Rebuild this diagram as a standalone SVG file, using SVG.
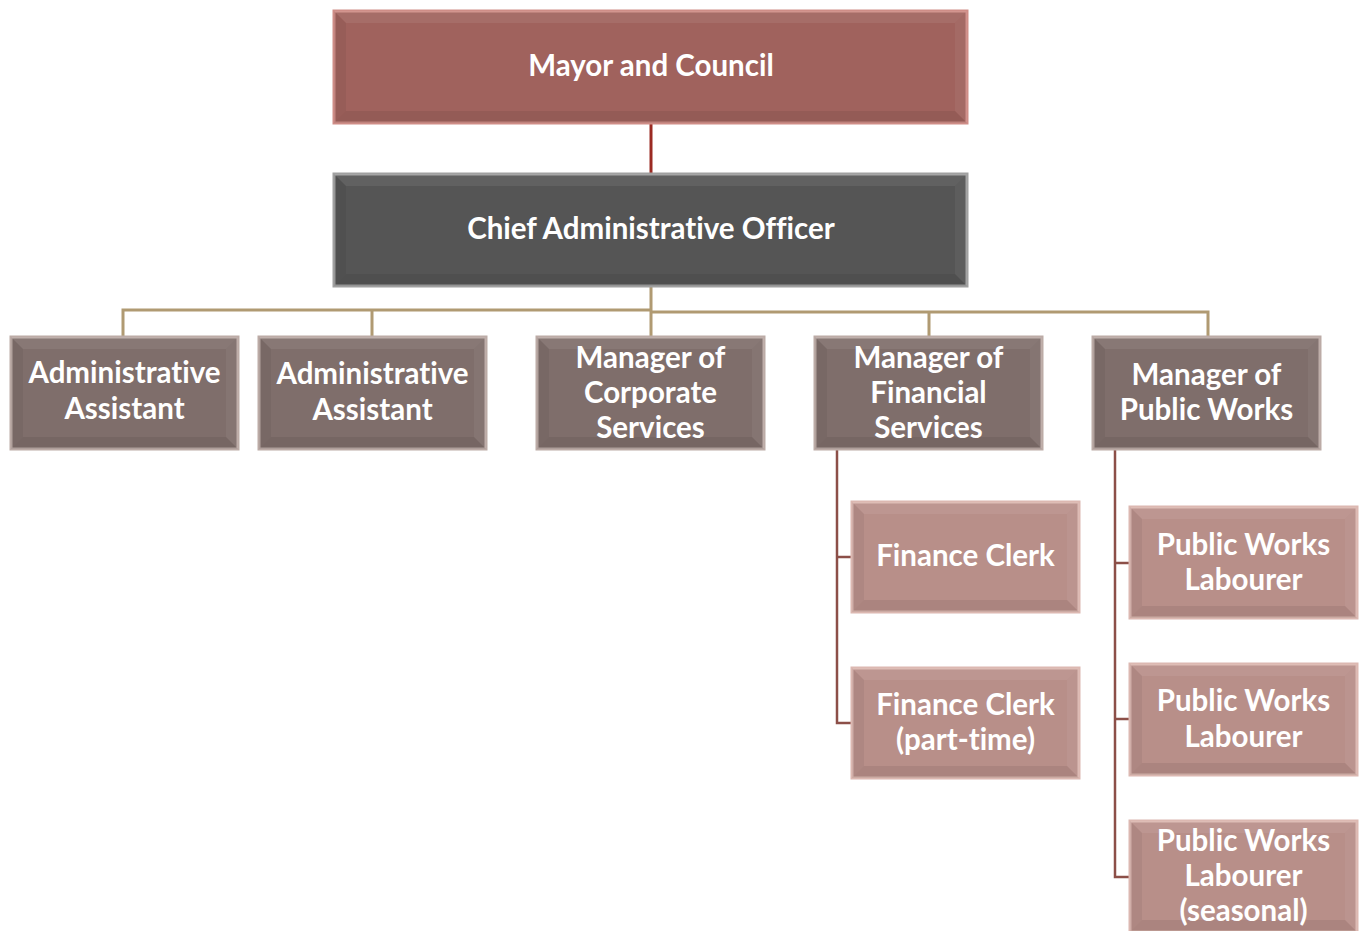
<svg xmlns="http://www.w3.org/2000/svg" width="1365" height="931" viewBox="0 0 1365 931">
<style>
.t{font-family:Lato,"Open Sans","Liberation Sans",sans-serif;font-weight:bold;font-size:29.5px;fill:#ffffff;text-anchor:middle;font-variant-ligatures:none;font-feature-settings:"liga" 0}
.mayor{fill:#a0625d;stroke:#cf8d87;stroke-width:3}
.cao{fill:#555555;stroke:#a0a0a0;stroke-width:3}
.mid{fill:#7f6e6b;stroke:#bcaba6;stroke-width:3}
.leaf{fill:#b88f89;stroke:#dcb8b1;stroke-width:3}
.bt{fill:#ffffff;fill-opacity:0.07}
.bl{fill:#000000;fill-opacity:0.05}
.bb{fill:#000000;fill-opacity:0.07}
.br{fill:#ffffff;fill-opacity:0.05}
.c1{stroke:#9b2a22;stroke-width:3;fill:none}
.c2{stroke:#b09a72;stroke-width:3;fill:none}
.c3{stroke:#8c4f48;stroke-width:2.5;fill:none}
</style>
<rect width="1365" height="931" fill="#ffffff"/>
<g id="connectors">
<line class="c1" x1="651" y1="123" x2="651" y2="174"/>
<path class="c2" d="M651,286 V337 M123,337 V310 H651 M651,312 H1208 V337 M372,310 V337 M929,312 V337"/>
<path class="c3" d="M837,449 V723 H852 M837,557 H852"/>
<path class="c3" d="M1115,449 V877 H1130 M1115,563 H1130 M1115,719 H1130"/>
</g>
<g id="mayor">
<rect class="mayor" x="334" y="11" width="633" height="112"/>
<polygon class="bt" points="334,11 967,11 955,23 346,23"/>
<polygon class="bl" points="334,11 346,23 346,111 334,123"/>
<polygon class="bb" points="334,123 346,111 955,111 967,123"/>
<polygon class="br" points="967,11 967,123 955,111 955,23"/>
<text class="t" x="651" y="76">Mayor and Council</text>
</g>
<g id="cao">
<rect class="cao" x="334" y="174" width="633" height="112"/>
<polygon class="bt" points="334,174 967,174 955,186 346,186"/>
<polygon class="bl" points="334,174 346,186 346,274 334,286"/>
<polygon class="bb" points="334,286 346,274 955,274 967,286"/>
<polygon class="br" points="967,174 967,286 955,274 955,186"/>
<text class="t" x="651" y="239">Chief Administrative Officer</text>
</g>
<g id="admin1">
<rect class="mid" x="11" y="337" width="227" height="112"/>
<polygon class="bt" points="11,337 238,337 226,349 23,349"/>
<polygon class="bl" points="11,337 23,349 23,437 11,449"/>
<polygon class="bb" points="11,449 23,437 226,437 238,449"/>
<polygon class="br" points="238,337 238,449 226,437 226,349"/>
<text class="t" x="124.5" y="383">Administrative</text>
<text class="t" x="124.5" y="419">Assistant</text>
</g>
<g id="admin2">
<rect class="mid" x="259" y="337" width="227" height="112"/>
<polygon class="bt" points="259,337 486,337 474,349 271,349"/>
<polygon class="bl" points="259,337 271,349 271,437 259,449"/>
<polygon class="bb" points="259,449 271,437 474,437 486,449"/>
<polygon class="br" points="486,337 486,449 474,437 474,349"/>
<text class="t" x="372.5" y="384">Administrative</text>
<text class="t" x="372.5" y="420">Assistant</text>
</g>
<g id="corporate">
<rect class="mid" x="537" y="337" width="227" height="112"/>
<polygon class="bt" points="537,337 764,337 752,349 549,349"/>
<polygon class="bl" points="537,337 549,349 549,437 537,449"/>
<polygon class="bb" points="537,449 549,437 752,437 764,449"/>
<polygon class="br" points="764,337 764,449 752,437 752,349"/>
<text class="t" x="650.5" y="368">Manager of</text>
<text class="t" x="650.5" y="403">Corporate</text>
<text class="t" x="650.5" y="438">Services</text>
</g>
<g id="financial">
<rect class="mid" x="815" y="337" width="227" height="112"/>
<polygon class="bt" points="815,337 1042,337 1030,349 827,349"/>
<polygon class="bl" points="815,337 827,349 827,437 815,449"/>
<polygon class="bb" points="815,449 827,437 1030,437 1042,449"/>
<polygon class="br" points="1042,337 1042,449 1030,437 1030,349"/>
<text class="t" x="928.5" y="368">Manager of</text>
<text class="t" x="928.5" y="403">Financial</text>
<text class="t" x="928.5" y="438">Services</text>
</g>
<g id="publicworks">
<rect class="mid" x="1093" y="337" width="227" height="112"/>
<polygon class="bt" points="1093,337 1320,337 1308,349 1105,349"/>
<polygon class="bl" points="1093,337 1105,349 1105,437 1093,449"/>
<polygon class="bb" points="1093,449 1105,437 1308,437 1320,449"/>
<polygon class="br" points="1320,337 1320,449 1308,437 1308,349"/>
<text class="t" x="1206.5" y="385">Manager of</text>
<text class="t" x="1206.5" y="420">Public Works</text>
</g>
<g id="financeclerk">
<rect class="leaf" x="852" y="502" width="227" height="110"/>
<polygon class="bt" points="852,502 1079,502 1067,514 864,514"/>
<polygon class="bl" points="852,502 864,514 864,600 852,612"/>
<polygon class="bb" points="852,612 864,600 1067,600 1079,612"/>
<polygon class="br" points="1079,502 1079,612 1067,600 1067,514"/>
<text class="t" x="965.5" y="566">Finance Clerk</text>
</g>
<g id="financeclerkpt">
<rect class="leaf" x="852" y="668" width="227" height="110"/>
<polygon class="bt" points="852,668 1079,668 1067,680 864,680"/>
<polygon class="bl" points="852,668 864,680 864,766 852,778"/>
<polygon class="bb" points="852,778 864,766 1067,766 1079,778"/>
<polygon class="br" points="1079,668 1079,778 1067,766 1067,680"/>
<text class="t" x="965.5" y="715">Finance Clerk</text>
<text class="t" x="965.5" y="750">(part-time)</text>
</g>
<g id="pwl1">
<rect class="leaf" x="1130" y="507" width="227" height="111"/>
<polygon class="bt" points="1130,507 1357,507 1345,519 1142,519"/>
<polygon class="bl" points="1130,507 1142,519 1142,606 1130,618"/>
<polygon class="bb" points="1130,618 1142,606 1345,606 1357,618"/>
<polygon class="br" points="1357,507 1357,618 1345,606 1345,519"/>
<text class="t" x="1243.5" y="555">Public Works</text>
<text class="t" x="1243.5" y="590">Labourer</text>
</g>
<g id="pwl2">
<rect class="leaf" x="1130" y="664" width="227" height="111"/>
<polygon class="bt" points="1130,664 1357,664 1345,676 1142,676"/>
<polygon class="bl" points="1130,664 1142,676 1142,763 1130,775"/>
<polygon class="bb" points="1130,775 1142,763 1345,763 1357,775"/>
<polygon class="br" points="1357,664 1357,775 1345,763 1345,676"/>
<text class="t" x="1243.5" y="711">Public Works</text>
<text class="t" x="1243.5" y="747">Labourer</text>
</g>
<g id="pwl3">
<rect class="leaf" x="1130" y="821" width="227" height="111"/>
<polygon class="bt" points="1130,821 1357,821 1345,833 1142,833"/>
<polygon class="bl" points="1130,821 1142,833 1142,920 1130,932"/>
<polygon class="bb" points="1130,932 1142,920 1345,920 1357,932"/>
<polygon class="br" points="1357,821 1357,932 1345,920 1345,833"/>
<text class="t" x="1243.5" y="851">Public Works</text>
<text class="t" x="1243.5" y="886">Labourer</text>
<text class="t" x="1243.5" y="921">(seasonal)</text>
</g>
</svg>
